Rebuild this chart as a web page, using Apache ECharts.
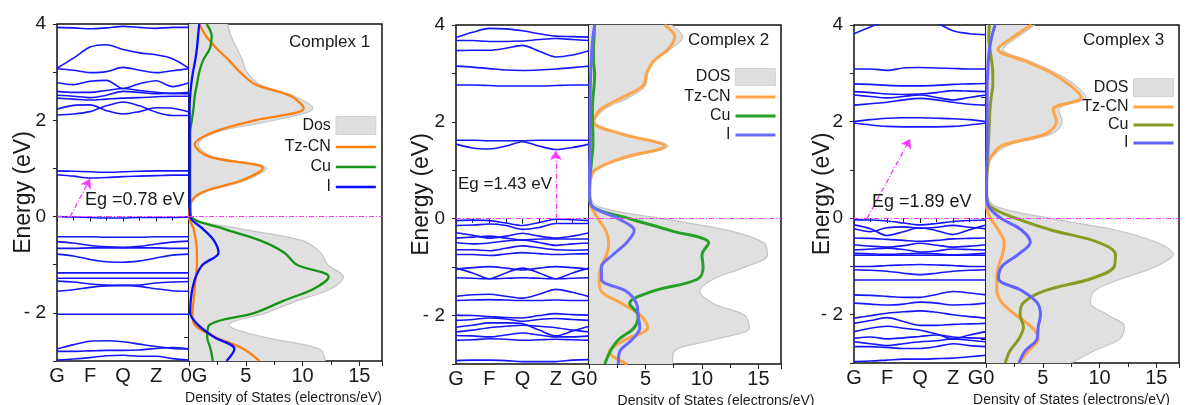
<!DOCTYPE html>
<html><head><meta charset="utf-8">
<script src="https://cdn.jsdelivr.net/npm/echarts@6/dist/echarts.min.js"></script>
<style>html,body{margin:0;padding:0;background:#fff}#c{width:1186px;height:405px}</style>
</head><body><div id="c"></div>
<script>
// ---------- data ----------
const kPts = [0,0.5,1,1.5,2,2.5,3,3.5,4];
const kLabels = ['G','F','Q','Z','G'];
const dosTicks = [0,5,10,15];
const dosE = [4,3.75,3.5,3.25,3,2.75,2.5,2.25,2,1.75,1.5,1.25,1,0.75,0.5,0.25,0,-0.25,-0.5,-0.75,-1,-1.25,-1.5,-1.75,-2,-2.25,-2.5,-2.75,-3];
const rightTicks = [2.5,0,-2.5];
const titles = ['Complex 1','Complex 2','Complex 3'];
const dosNames = ['Dos','DOS','DOS'];
const partNames = ['Tz-CN','Cu','I'];
const egTexts = ['Eg =0.78 eV','Eg =1.43 eV','Eg =1.89 eV'];
const arrows = [[[0.4,0],[1.0,0.78]], [[3.0,0],[3.0,1.40]], [[0.4,0],[1.7,1.64]]];

const bands1 = [
 [3.93,3.92,3.90,3.92,3.95,3.93,3.91,3.93,3.93],
 [3.08,3.29,3.52,3.57,3.47,3.40,3.36,3.28,3.08],
 [3.07,3.04,2.99,3.01,3.10,3.04,2.99,3.03,3.07],
 [2.78,2.74,2.81,2.83,2.66,2.76,2.82,2.70,2.78],
 [2.60,2.58,2.58,2.62,2.66,2.62,2.58,2.56,2.58],
 [2.52,2.50,2.47,2.52,2.60,2.58,2.55,2.56,2.55],
 [2.46,2.44,2.42,2.44,2.46,2.47,2.49,2.50,2.50],
 [2.23,2.31,2.32,2.20,2.13,2.18,2.26,2.25,2.17],
 [2.11,2.13,2.18,2.30,2.38,2.30,2.17,2.10,2.10],
 [0.95,0.94,0.93,0.92,0.93,0.94,0.95,0.95,0.95],
 [0.87,0.84,0.80,0.81,0.83,0.84,0.85,0.86,0.86],
 [0.00,-0.01,-0.02,-0.03,-0.03,-0.02,-0.02,-0.02,-0.01],
 [-0.42,-0.42,-0.42,-0.43,-0.43,-0.43,-0.42,-0.42,-0.42],
 [-0.52,-0.55,-0.60,-0.63,-0.64,-0.62,-0.57,-0.53,-0.51],
 [-0.66,-0.66,-0.65,-0.65,-0.65,-0.65,-0.65,-0.66,-0.66],
 [-0.78,-0.82,-0.89,-0.94,-0.95,-0.92,-0.86,-0.80,-0.78],
 [-1.17,-1.17,-1.17,-1.17,-1.17,-1.17,-1.17,-1.17,-1.17],
 [-1.28,-1.28,-1.28,-1.28,-1.28,-1.28,-1.28,-1.28,-1.28],
 [-1.34,-1.36,-1.40,-1.42,-1.43,-1.42,-1.38,-1.36,-1.35],
 [-1.55,-1.52,-1.47,-1.44,-1.43,-1.45,-1.50,-1.54,-1.55],
 [-2.03,-2.03,-2.03,-2.03,-2.03,-2.03,-2.03,-2.03,-2.03],
 [-2.75,-2.66,-2.59,-2.58,-2.60,-2.65,-2.70,-2.74,-2.75],
 [-2.80,-2.80,-2.79,-2.78,-2.78,-2.77,-2.74,-2.72,-2.75],
 [-2.98,-2.96,-2.93,-2.89,-2.88,-2.90,-2.90,-2.95,-2.98]
];
const bands2 = [
 [3.74,3.85,3.93,3.92,3.88,3.82,3.77,3.76,3.75],
 [3.68,3.68,3.66,3.66,3.67,3.70,3.72,3.70,3.68],
 [3.47,3.48,3.48,3.52,3.58,3.46,3.34,3.38,3.47],
 [3.15,3.13,3.10,3.07,3.06,3.07,3.09,3.12,3.15],
 [2.76,2.76,2.75,2.74,2.74,2.74,2.75,2.76,2.76],
 [1.62,1.62,1.61,1.61,1.61,1.62,1.62,1.62,1.62],
 [1.54,1.46,1.44,1.50,1.59,1.50,1.43,1.47,1.54],
 [-0.04,-0.03,-0.04,-0.09,-0.14,-0.08,-0.01,-0.02,-0.04],
 [-0.14,-0.13,-0.11,-0.14,-0.22,-0.18,-0.10,-0.10,-0.10],
 [-0.29,-0.34,-0.40,-0.36,-0.30,-0.36,-0.40,-0.36,-0.29],
 [-0.40,-0.38,-0.36,-0.40,-0.44,-0.42,-0.42,-0.42,-0.42],
 [-0.49,-0.52,-0.50,-0.46,-0.44,-0.49,-0.55,-0.52,-0.50],
 [-0.64,-0.64,-0.66,-0.61,-0.56,-0.60,-0.64,-0.65,-0.64],
 [-0.74,-0.74,-0.76,-0.73,-0.70,-0.72,-0.74,-0.73,-0.72],
 [-1.02,-1.12,-1.24,-1.12,-1.02,-1.12,-1.24,-1.12,-1.02],
 [-1.04,-1.01,-0.99,-1.02,-1.06,-1.02,-0.99,-1.01,-1.04],
 [-1.22,-1.23,-1.24,-1.23,-1.22,-1.23,-1.24,-1.23,-1.22],
 [-1.60,-1.57,-1.56,-1.60,-1.64,-1.56,-1.46,-1.52,-1.61],
 [-1.69,-1.68,-1.67,-1.68,-1.69,-1.69,-1.68,-1.69,-1.69],
 [-1.99,-2.00,-2.02,-2.04,-2.05,-2.00,-1.96,-1.98,-1.99],
 [-2.10,-2.08,-2.05,-2.07,-2.12,-2.08,-2.06,-2.08,-2.10],
 [-2.24,-2.20,-2.15,-2.15,-2.17,-2.30,-2.42,-2.32,-2.22],
 [-2.34,-2.30,-2.25,-2.22,-2.20,-2.22,-2.25,-2.30,-2.34],
 [-2.41,-2.42,-2.44,-2.40,-2.36,-2.40,-2.44,-2.44,-2.42],
 [-2.51,-2.50,-2.48,-2.49,-2.51,-2.50,-2.49,-2.50,-2.51],
 [-2.93,-2.92,-2.92,-2.93,-2.95,-2.95,-2.95,-2.92,-2.91]
];
const bands3 = [
 [3.82,3.96,4.10,4.20,4.20,4.05,3.88,3.82,3.80],
 [3.09,3.09,3.06,3.11,3.12,3.11,3.10,3.09,3.09],
 [2.78,2.77,2.75,2.74,2.74,2.75,2.77,2.78,2.79],
 [2.62,2.60,2.57,2.56,2.57,2.60,2.64,2.63,2.62],
 [2.55,2.52,2.49,2.52,2.55,2.50,2.45,2.50,2.55],
 [2.34,2.37,2.40,2.45,2.48,2.45,2.40,2.36,2.34],
 [2.00,2.04,2.07,2.08,2.08,2.07,2.06,2.04,2.00],
 [1.97,1.93,1.90,1.89,1.89,1.89,1.90,1.93,1.97],
 [-0.03,-0.04,-0.06,-0.10,-0.14,-0.11,-0.07,-0.05,-0.04],
 [-0.14,-0.22,-0.36,-0.28,-0.20,-0.26,-0.34,-0.24,-0.14],
 [-0.22,-0.28,-0.20,-0.18,-0.21,-0.19,-0.15,-0.19,-0.22],
 [-0.41,-0.42,-0.44,-0.46,-0.48,-0.46,-0.43,-0.42,-0.41],
 [-0.55,-0.58,-0.60,-0.57,-0.52,-0.56,-0.60,-0.58,-0.55],
 [-0.66,-0.64,-0.62,-0.65,-0.70,-0.68,-0.64,-0.65,-0.66],
 [-0.73,-0.74,-0.75,-0.74,-0.73,-0.74,-0.76,-0.75,-0.73],
 [-0.77,-0.77,-0.77,-0.77,-0.77,-0.77,-0.77,-0.77,-0.77],
 [-1.00,-1.00,-0.98,-0.97,-0.96,-0.97,-0.98,-1.00,-1.00],
 [-1.07,-1.08,-1.10,-1.14,-1.17,-1.14,-1.10,-1.08,-1.07],
 [-1.28,-1.28,-1.28,-1.28,-1.28,-1.28,-1.28,-1.28,-1.28],
 [-1.59,-1.60,-1.62,-1.64,-1.64,-1.58,-1.52,-1.55,-1.59],
 [-1.76,-1.78,-1.80,-1.78,-1.74,-1.76,-1.80,-1.79,-1.76],
 [-2.07,-2.02,-1.97,-1.94,-1.92,-1.95,-2.00,-2.04,-2.07],
 [-2.18,-2.12,-2.06,-2.14,-2.22,-2.22,-2.20,-2.19,-2.18],
 [-2.35,-2.28,-2.24,-2.28,-2.32,-2.40,-2.50,-2.42,-2.35],
 [-2.49,-2.46,-2.50,-2.48,-2.45,-2.42,-2.46,-2.48,-2.49],
 [-2.56,-2.60,-2.64,-2.60,-2.56,-2.54,-2.50,-2.53,-2.56],
 [-2.66,-2.66,-2.68,-2.70,-2.70,-2.66,-2.60,-2.64,-2.66],
 [-2.97,-2.96,-2.94,-2.92,-2.92,-2.91,-2.90,-2.87,-2.84]
];

// DOS values, ordered as dosE (4 eV down to -3 eV)
const tot1 = [3.4,3.7,4.2,4.7,5.1,6.2,9.3,10.9,7.5,2.4,0.8,2.0,6.8,5.0,1.4,0.2,0.2,4.5,10.0,11.6,12.2,13.6,12.5,9.5,6.8,3.5,6.5,11.5,12.0];
const tz1 = [0.9,1.5,2.4,3.5,4.5,5.8,9.0,10.1,5.8,2.1,0.5,1.7,6.5,4.6,1.1,0.1,0.0,0.4,0.6,0.7,0.7,0.6,0.5,0.4,0.3,0.5,2.3,4.8,6.2];
const cu1 = [1.55,2.0,1.85,1.25,0.9,0.7,0.5,0.4,0.25,0.1,0.1,0.1,0.1,0.1,0.1,0.1,0.2,3.0,6.3,8.4,9.5,12.3,11.0,8.3,5.8,1.8,1.6,1.9,2.1];
const i1 = [0.9,0.8,0.7,0.55,0.35,0.2,0.1,0.05,0.05,0.05,0.05,0.05,0.05,0.05,0.05,0.05,0.1,1.2,2.2,2.6,1.2,0.6,0.3,0.15,0.1,0.8,2.2,4.0,3.3];

const tot2 = [7.3,8.3,7.2,5.8,5.2,5.0,3.5,1.3,0.5,3.0,7.0,3.3,0.6,0.15,0.1,0.8,6.5,12.5,15.5,15.8,13.8,11.0,9.8,11.0,13.8,14.2,11.0,7.5,7.4];
const tz2 = [6.7,7.6,7.0,5.7,5.1,4.8,2.9,1.0,0.4,2.9,6.7,2.9,0.5,0.1,0.05,0.2,0.8,1.5,1.75,1.55,1.05,0.9,1.1,2.9,4.6,5.2,3.2,1.8,3.4];
const cu2 = [0.5,0.45,0.4,0.4,0.5,0.45,0.35,0.3,0.3,0.35,0.35,0.25,0.15,0.05,0.05,0.3,3.6,7.3,10.6,10.0,10.1,9.6,5.6,3.6,4.35,4.0,2.6,1.85,1.4];
const i2 = [0.5,0.35,0.25,0.2,0.15,0.12,0.1,0.1,0.1,0.1,0.1,0.08,0.05,0.05,0.05,0.3,2.6,4.0,3.3,2.1,1.1,1.1,3.3,4.2,4.35,4.5,3.8,2.7,2.6];

const tot3 = [4.3,2.8,1.5,3.9,6.2,7.9,8.8,6.4,6.7,5.8,1.9,0.5,0.2,0.1,0.1,0.8,5.5,11.5,15.0,16.5,15.0,12.0,9.6,9.2,10.7,12.2,11.8,9.5,7.5];
const tz3 = [4.0,2.4,1.05,3.45,5.8,7.4,8.4,5.9,6.2,5.3,1.4,0.4,0.1,0.05,0.05,0.05,0.4,1.1,1.6,1.45,1.1,0.95,0.95,1.4,2.6,4.0,4.6,3.75,2.9];
const cu3 = [0.3,0.25,0.35,0.5,0.6,0.6,0.45,0.35,0.3,0.25,0.2,0.15,0.1,0.05,0.05,0.35,2.6,5.8,9.9,11.4,11.3,9.3,5.2,3.3,3.0,3.3,2.9,2.1,1.7];
const i3 = [0.8,0.5,0.3,0.2,0.15,0.1,0.1,0.1,0.1,0.1,0.1,0.08,0.05,0.05,0.05,0.2,1.3,3.15,3.9,2.85,1.4,1.1,3.15,4.5,4.8,4.6,4.5,3.45,2.9];

// ---------- layout / style ----------
const FONT = 'Liberation Sans, Arial, Helvetica, sans-serif';
const TXT = '#1a1a1a';
const MAG = '#ff33ff';
const panels = [
 {bands:bands1, tot:tot1, parts:[tz1,cu1,i1]},
 {bands:bands2, tot:tot2, parts:[tz2,cu2,i2]},
 {bands:bands3, tot:tot3, parts:[tz3,cu3,i3]}
];
const layout = [
 {band:[57,24,132,337], dos:[189,24,193,337], title:[289,42], eg:[85,200], egSize:18, lg:{right:809, top:116, h:18, gap:4}, nameShift:-2, gFirst:false, yGap:22},
 {band:[456,25,133,339], dos:[589,25,192,339], title:[688,40], eg:[458,184], egSize:17, lg:{right:409, top:68, h:17, gap:3}, nameShift:31, gFirst:true, yGap:23},
 {band:[854,25,132,338], dos:[986,25,193,338], title:[1083,40], eg:[872,202], egSize:18, lg:{right:11, top:78, h:18, gap:2}, nameShift:-11, gFirst:true, yGap:20}
];
const styles = [
 {colors:['#ff7f0e','#169416','#0b0bff'], w:2.3, band:'#1515ff'},
 {colors:['#ffa448','#27a027','#6a6aff'], w:3, band:'#1515ff'},
 {colors:['#ffa448','#8b9a22','#6262ff'], w:3, band:'#1515ff'}
];

const grid = [], xAxis = [], yAxis = [], series = [], legend = [], graphic = [];
const zeroIdx = dosE.indexOf(0);
const richBase = {fontSize:20, color:TXT, fontFamily:FONT};

panels.forEach((P, p) => {
  const L = layout[p], S = styles[p];
  const bi = 2*p, di = 2*p+1;
  grid.push({left:L.band[0], top:L.band[1], width:L.band[2], height:L.band[3], show:true, borderColor:'#111', borderWidth:1.5, outerBoundsMode:'none'});
  grid.push({left:L.dos[0], top:L.dos[1], width:L.dos[2], height:L.dos[3], show:true, borderColor:'#111', borderWidth:1.5, outerBoundsMode:'none'});

  // band k-path axis: the last "G" is written together with the DOS "0" below
  xAxis.push({gridIndex:bi, type:'value', min:0, max:4, interval:1,
    axisLine:{show:false}, splitLine:{show:false},
    axisTick:{show:true, length:5, lineStyle:{color:'#222', width:1}},
    minorTick:{show:true, splitNumber:2, length:4, lineStyle:{color:'#222', width:1}},
    axisLabel:{margin:5, fontSize:20, color:TXT, fontFamily:FONT,
      formatter:(v)=> v===4 ? '' : kLabels[Math.round(v)]}
  });
  xAxis.push({gridIndex:di, type:'value', min:0, max:17, interval:5,
    axisLine:{show:false}, splitLine:{show:false},
    axisTick:{show:true, length:5, lineStyle:{color:'#222', width:1}},
    minorTick:{show:true, splitNumber:2, length:4, lineStyle:{color:'#222', width:1}},
    axisLabel:{margin:5, fontSize:20, color:TXT, fontFamily:FONT, showMinLabel:true, showMaxLabel:false,
      formatter:(v)=> {
        if (v===0) return L.gFirst ? '{g|'+kLabels[4]+'}{zr|0}' : '{zl|0}{g|'+kLabels[4]+'}';
        return dosTicks.indexOf(v)>=0 ? String(v) : '';
      },
      rich:{g:richBase, zr:Object.assign({padding:[0,10,0,0]}, richBase), zl:Object.assign({padding:[0,0,0,10]}, richBase)}},
    name:'Density of States (electrons/eV)', nameLocation:'middle', nameGap:30, nameMoveOverlap:false,
    nameTextStyle:{fontSize:14, color:TXT, fontFamily:FONT,
      padding: L.nameShift>=0 ? [0,0,0,2*L.nameShift] : [0,-2*L.nameShift,0,0]}
  });
  yAxis.push({gridIndex:bi, type:'value', min:-3, max:4, interval:1,
    axisLine:{show:false}, splitLine:{show:false},
    axisTick:{show:true, length:4, lineStyle:{color:'#222', width:1}},
    axisLabel:{margin:11, fontSize:19, color:TXT, fontFamily:FONT,
      formatter:(v)=> (Math.abs(v)%2===0) ? (v<0 ? '- '+(-v) : String(v)) : ''},
    name:'Energy (eV)', nameLocation:'middle', nameGap:L.yGap, nameMoveOverlap:false,
    nameTextStyle:{fontSize:23, color:TXT, fontFamily:FONT}
  });
  yAxis.push({gridIndex:di, type:'category', data:dosE.map(String), inverse:true, boundaryGap:false,
    position:'right', axisLine:{show:false}, axisLabel:{show:false}, splitLine:{show:false},
    axisTick:{show:true, inside:true, length:5, lineStyle:{color:'#222', width:1},
      interval:(idx)=> rightTicks.indexOf(dosE[idx])>=0}});

  // bands
  P.bands.forEach((b, j) => {
    const s = {type:'line', xAxisIndex:bi, yAxisIndex:bi, data:kPts.map((k,i)=>[k,b[i]]),
      smooth:0.3, symbol:'none', silent:true, z:2, lineStyle:{color:S.band, width:1.6}};
    if (j===0) s.markLine = {silent:true, symbol:'none', label:{show:false}, z:5,
      lineStyle:{color:MAG, width:1, type:[5,2,1,2]}, data:[{yAxis:0}]};
    if (j===1) s.markLine = {silent:true, symbol:['none','arrow'], symbolSize:9, label:{show:false}, z:5,
      lineStyle:{color:MAG, width:1.3, type:[5,2,1,2]},
      data:[[{coord:arrows[p][0]},{coord:arrows[p][1]}]]};
    series.push(s);
  });

  // DOS
  const totName = dosNames[p]+'|'+p;
  series.push({name:totName, type:'line', xAxisIndex:di, yAxisIndex:di, data:P.tot, smooth:0.35,
    symbol:'none', silent:true, z:1, lineStyle:{color:'#c4c4c4', width:1.2},
    areaStyle:{color:'#e0e0e0', opacity:1},
    markLine:{silent:true, symbol:'none', label:{show:false}, z:6,
      lineStyle:{color:MAG, width:1, type:[5,2,1,2]}, data:[{yAxis:zeroIdx}]}});
  P.parts.forEach((arr, j) => {
    series.push({name:partNames[j]+'|'+p, type:'line', xAxisIndex:di, yAxisIndex:di, data:arr, smooth:0.35,
      symbol:'none', silent:true, z:3+j, lineStyle:{color:S.colors[j], width:S.w}, itemStyle:{color:S.colors[j]}});
  });

  legend.push({orient:'vertical', align:'right', right:L.lg.right, top:L.lg.top, padding:0,
    itemWidth:40, itemHeight:L.lg.h, itemGap:L.lg.gap, selectedMode:false,
    textStyle:{fontSize:16, color:TXT, fontFamily:FONT},
    formatter:(n)=>n.split('|')[0],
    data:[{name:totName, icon:'rect', itemStyle:{color:'#dedede', borderColor:'#bcbcbc', borderWidth:1, borderType:'dotted'}}]
      .concat(partNames.map((n,j)=>({name:n+'|'+p, itemStyle:{opacity:0}, lineStyle:{color:S.colors[j], width:S.w}})))});

  graphic.push({type:'text', x:L.title[0], y:L.title[1], z:20,
    style:{text:titles[p], fontSize:17, fill:TXT, fontFamily:FONT, align:'left', verticalAlign:'middle'}});
  graphic.push({type:'text', x:L.eg[0], y:L.eg[1], z:20,
    style:{text:egTexts[p], fontSize:L.egSize, fill:TXT, fontFamily:FONT, align:'left', verticalAlign:'middle'}});
});

const chart = echarts.init(document.getElementById('c'), null, {renderer:'canvas'});
chart.setOption({
  backgroundColor:'#fff', animation:false,
  textStyle:{fontFamily:FONT},
  grid, xAxis, yAxis, series, legend, graphic
});
</script></body></html>
